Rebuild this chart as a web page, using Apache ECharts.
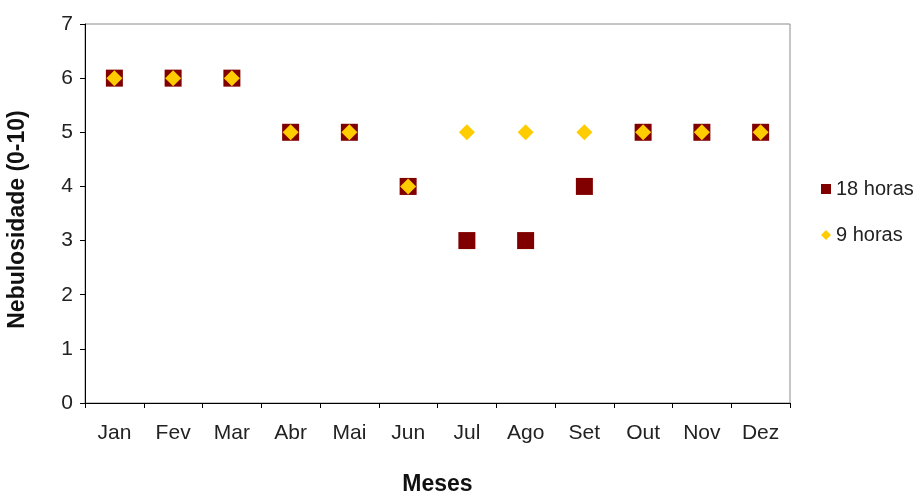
<!DOCTYPE html>
<html>
<head>
<meta charset="utf-8">
<script src="https://cdn.jsdelivr.net/npm/echarts@6/dist/echarts.min.js"></script>
<style>
  html, body { margin: 0; padding: 0; background: #fff; }
  #chart { width: 921px; height: 493px; }
</style>
</head>
<body>
<div id="chart"></div>
<script>
// Monthly cloud cover (0-10 scale) at two observation times
const months = ['Jan', 'Fev', 'Mar', 'Abr', 'Mai', 'Jun', 'Jul', 'Ago', 'Set', 'Out', 'Nov', 'Dez'];
const horas18 = [6, 6, 6, 5, 5, 4, 3, 3, 4, 5, 5, 5];
const horas9 = [6, 6, 6, 5, 5, 4, 5, 5, 5, 5, 5, 5];
const yTicks = [0, 1, 2, 3, 4, 5, 6, 7];

const font = '"Liberation Sans", Arial, sans-serif';
const chart = echarts.init(document.getElementById('chart'));

chart.setOption({
  backgroundColor: '#ffffff',
  animation: false,
  grid: {
    left: 85, right: 131, top: 24, bottom: 90,
    containLabel: false,
    outerBoundsMode: 'none',
    show: true, borderColor: '#8c8c8c', borderWidth: 1, backgroundColor: 'transparent'
  },
  legend: {
    orient: 'vertical',
    left: 816, top: 174,
    itemGap: 26,
    itemWidth: 10, itemHeight: 10,
    textStyle: { fontFamily: font, fontSize: 20, color: '#222' },
    data: [
      { name: '18 horas', icon: 'rect', itemStyle: { color: '#800000', opacity: 1 } },
      { name: '9 horas', icon: 'diamond', itemStyle: { color: '#FFCC00', opacity: 1 } }
    ]
  },
  xAxis: {
    type: 'category',
    data: months,
    boundaryGap: true,
    name: 'Meses',
    nameLocation: 'middle',
    nameGap: 70,
    nameTextStyle: { fontFamily: font, fontSize: 23, fontWeight: 'bold', color: '#111' },
    axisLine: { show: true, lineStyle: { color: '#000', width: 1 } },
    axisTick: { show: true, length: 5, lineStyle: { color: '#000' } },
    axisLabel: { fontFamily: font, fontSize: 21, color: '#222', margin: 20 },
    splitLine: { show: false }
  },
  yAxis: {
    type: 'value',
    min: 0, max: 7, interval: 1,
    name: 'Nebulosidade (0-10)',
    nameLocation: 'middle',
    nameGap: 56,
    nameTextStyle: {
      fontFamily: font, fontSize: 23, fontWeight: 'bold', color: '#111',
      padding: [0, 12, 0, 0]
    },
    axisLine: { show: true, lineStyle: { color: '#000', width: 1 } },
    axisTick: { show: true, length: 5, lineStyle: { color: '#000' } },
    axisLabel: {
      fontFamily: font, fontSize: 21, color: '#222', margin: 12,
      formatter: v => yTicks.includes(v) ? String(v) : ''
    },
    splitLine: { show: false }
  },
  series: [
    {
      name: '18 horas',
      type: 'scatter',
      data: horas18,
      symbol: 'rect',
      symbolSize: 17,
      itemStyle: { color: '#800000', opacity: 1 },
      z: 2
    },
    {
      name: '9 horas',
      type: 'scatter',
      data: horas9,
      symbol: 'diamond',
      symbolSize: 16,
      itemStyle: { color: '#FFCC00', opacity: 1 },
      z: 3
    }
  ]
});
</script>
</body>
</html>
